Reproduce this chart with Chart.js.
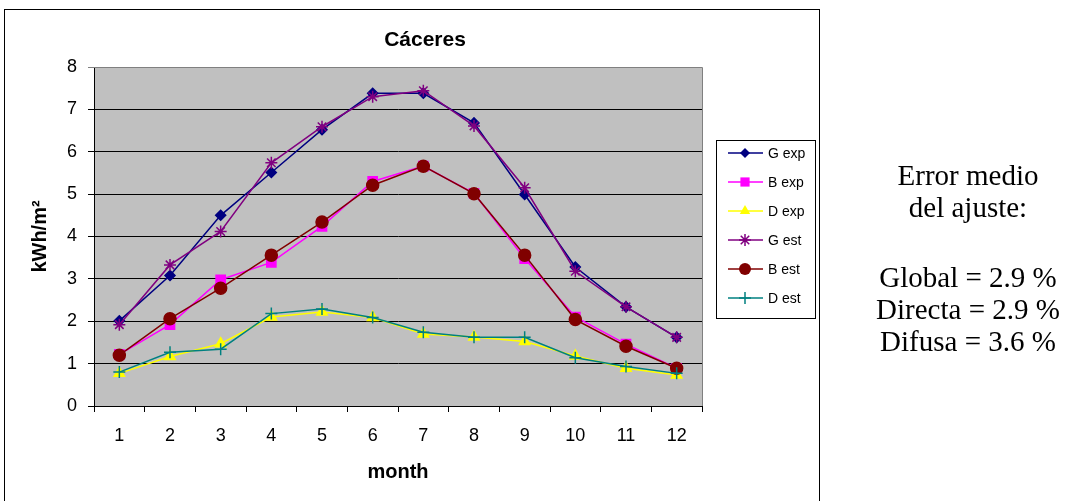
<!DOCTYPE html>
<html>
<head>
<meta charset="utf-8">
<script src="https://cdn.jsdelivr.net/npm/chart.js@4/dist/chart.umd.min.js"></script>
<style>
  html, body { margin: 0; padding: 0; background: #fff; }
  #wrap { position: relative; width: 1071px; height: 501px; overflow: hidden; }
  #c { position: absolute; left: 0; top: 0; }
  .note {
    position: absolute; left: 868px; width: 200px;
    font-family: "Liberation Serif", "Times New Roman", serif;
    font-size: 29px; line-height: 32px; color: #000; text-align: center;
    white-space: nowrap;
  }
</style>
</head>
<body>
<div id="wrap">
  <canvas id="c" width="1071" height="501"></canvas>
  <div class="note" style="top:159px">Error medio</div>
  <div class="note" style="top:191px">del ajuste:</div>
  <div class="note" style="top:261px">Global = 2.9 %</div>
  <div class="note" style="top:293px">Directa = 2.9 %</div>
  <div class="note" style="top:325px">Difusa = 3.6 %</div>
</div>
<script>
// Monthly daily irradiation, Cáceres (kWh/m²)
const months = ['1', '2', '3', '4', '5', '6', '7', '8', '9', '10', '11', '12'];
const gExp = [2.01, 3.08, 4.50, 5.51, 6.52, 7.38, 7.38, 6.68, 4.99, 3.28, 2.34, 1.62];
const bExp = [1.22, 1.92, 2.98, 3.39, 4.24, 5.30, 5.66, 5.02, 3.48, 2.10, 1.46, 0.89];
const dExp = [0.77, 1.17, 1.47, 2.10, 2.22, 2.09, 1.70, 1.63, 1.52, 1.18, 0.89, 0.73];
const gEst = [1.92, 3.33, 4.12, 5.74, 6.59, 7.30, 7.44, 6.61, 5.15, 3.18, 2.34, 1.62];
const bEst = [1.20, 2.06, 2.78, 3.56, 4.34, 5.21, 5.66, 5.01, 3.56, 2.04, 1.41, 0.89];
const dEst = [0.80, 1.27, 1.34, 2.18, 2.29, 2.09, 1.74, 1.62, 1.62, 1.14, 0.93, 0.77];
const yTicks = [0, 1, 2, 3, 4, 5, 6, 7, 8];

const FONT = "'Liberation Sans', Arial, sans-serif";

function series(label, data, color, style, radius, order) {
  return {
    label, data, order,
    borderColor: color,
    backgroundColor: color,
    pointBackgroundColor: color,
    pointBorderColor: color,
    pointStyle: style,
    pointRadius: radius,
    pointBorderWidth: 1.5,
    borderWidth: 1.5,
    tension: 0
  };
}

// later series are painted over earlier ones
const datasets = [
  series('G exp', gExp, '#000080', 'rectRot', 5, 6),
  series('B exp', bExp, '#FF00FF', 'rect', 6.5, 5),
  series('D exp', dExp, '#FFFF00', 'triangle', 6, 4),
  series('G est', gEst, '#800080', 'star', 6, 3),
  series('B est', bEst, '#800000', 'circle', 6, 2),
  series('D est', dEst, '#008080', 'cross', 6, 1)
];

// Marker glyphs for the legend box
function drawMarker(ctx, style, x, y, r, color) {
  ctx.save();
  ctx.fillStyle = color; ctx.strokeStyle = color; ctx.lineWidth = 1.5;
  ctx.beginPath();
  if (style === 'rectRot') {
    ctx.moveTo(x, y - r); ctx.lineTo(x + r, y); ctx.lineTo(x, y + r); ctx.lineTo(x - r, y); ctx.closePath(); ctx.fill();
  } else if (style === 'rect') {
    const s = r * Math.SQRT1_2; ctx.rect(x - s, y - s, 2 * s, 2 * s); ctx.fill();
  } else if (style === 'triangle') {
    ctx.moveTo(x, y - r); ctx.lineTo(x + r * 0.87, y + r * 0.5); ctx.lineTo(x - r * 0.87, y + r * 0.5); ctx.closePath(); ctx.fill();
  } else if (style === 'circle') {
    ctx.arc(x, y, r, 0, Math.PI * 2); ctx.fill();
  } else if (style === 'star') {
    const d = r * Math.SQRT1_2;
    ctx.moveTo(x, y - r); ctx.lineTo(x, y + r);
    ctx.moveTo(x - d, y - d); ctx.lineTo(x + d, y + d);
    ctx.moveTo(x + d, y - d); ctx.lineTo(x - d, y + d);
    ctx.moveTo(x - r, y); ctx.lineTo(x + r, y);
    ctx.stroke();
  } else if (style === 'cross') {
    ctx.moveTo(x, y - r); ctx.lineTo(x, y + r);
    ctx.moveTo(x - r, y); ctx.lineTo(x + r, y);
    ctx.stroke();
  }
  ctx.restore();
}

const frame = {
  id: 'frame',
  beforeDraw(chart) {
    const { ctx, chartArea: a } = chart;
    ctx.save();
    ctx.fillStyle = '#C0C0C0';
    ctx.fillRect(a.left, a.top, a.right - a.left, a.bottom - a.top);
    ctx.restore();
  },
  beforeDatasetsDraw(chart) {
    const { ctx, chartArea: a } = chart;
    ctx.save();
    ctx.strokeStyle = '#808080'; ctx.lineWidth = 1;
    ctx.beginPath();
    ctx.moveTo(a.left, a.top + 0.5); ctx.lineTo(a.right + 0.5, a.top + 0.5);
    ctx.lineTo(a.right + 0.5, a.bottom);
    ctx.stroke();
    ctx.restore();
  },
  afterDraw(chart) {
    const { ctx } = chart;
    ctx.save();
    // outer chart frame
    ctx.strokeStyle = '#000'; ctx.lineWidth = 1;
    ctx.strokeRect(4.5, 9.5, 815, 520);
    // title
    ctx.fillStyle = '#000';
    ctx.font = "bold 21px " + FONT;
    ctx.textAlign = 'center'; ctx.textBaseline = 'alphabetic';
    ctx.fillText('Cáceres', 425, 46);
    // legend
    const lx = 716.5, ly = 140.5, lw = 99, lh = 178;
    ctx.fillStyle = '#fff';
    ctx.fillRect(lx, ly, lw, lh);
    ctx.strokeStyle = '#000';
    ctx.strokeRect(lx, ly, lw, lh);
    ctx.font = "14px " + FONT;
    ctx.textAlign = 'left'; ctx.textBaseline = 'middle';
    chart.data.datasets.forEach((ds, i) => {
      const y = 153 + i * 29;
      ctx.strokeStyle = ds.borderColor; ctx.lineWidth = 1.5;
      ctx.beginPath(); ctx.moveTo(728, y); ctx.lineTo(763, y); ctx.stroke();
      drawMarker(ctx, ds.pointStyle, 745, y, ds.pointRadius, ds.pointBackgroundColor);
      ctx.fillStyle = '#000';
      ctx.fillText(ds.label, 768, y + 1);
    });
    ctx.restore();
  }
};

new Chart(document.getElementById('c'), {
  type: 'line',
  data: { labels: months, datasets },
  options: {
    responsive: false,
    animation: false,
    devicePixelRatio: 1,
    layout: { padding: { left: 4, top: 67, right: 369, bottom: 0 } },
    plugins: { legend: { display: false }, title: { display: false }, tooltip: { enabled: false } },
    scales: {
      x: {
        offset: true,
        grid: { offset: true, drawOnChartArea: false, drawTicks: true, tickLength: 6, color: '#000' },
        border: { color: '#000', width: 1 },
        ticks: { color: '#000', font: { family: FONT, size: 18 }, padding: 13, maxRotation: 0 },
        title: { display: true, text: 'month', color: '#000', font: { family: FONT, size: 20, weight: 'bold' }, padding: { bottom: 17 } },
        afterFit(scale) { scale.height = 95; }
      },
      y: {
        min: 0, max: 8,
        afterBuildTicks(scale) { scale.ticks = yTicks.map(v => ({ value: v })); },
        grid: {
          tickLength: 6,
          color: ctx => (ctx.tick && ctx.tick.value === 8) ? '#808080' : '#000'
        },
        border: { color: '#000', width: 1 },
        ticks: { color: '#000', font: { family: FONT, size: 18 }, padding: 11 },
        title: { display: true, text: 'kWh/m²', color: '#000', font: { family: FONT, size: 20, weight: 'bold' }, padding: { top: 24 } },
        afterFit(scale) { scale.width = 90; }
      }
    }
  },
  plugins: [frame]
});
</script>
</body>
</html>
